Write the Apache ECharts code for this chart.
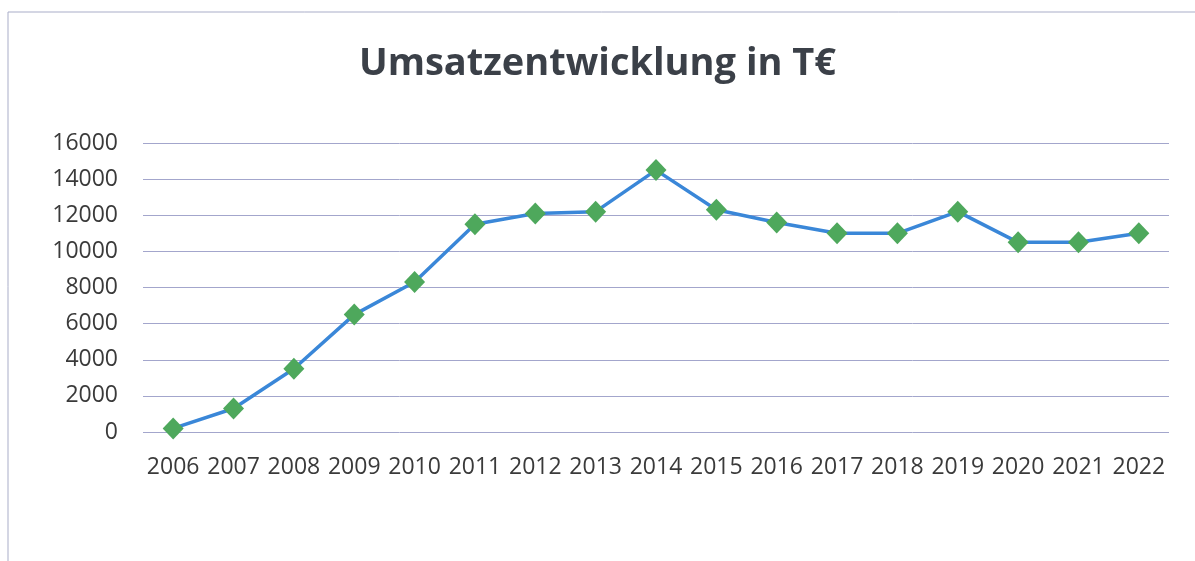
<!DOCTYPE html>
<html>
<head>
<meta charset="utf-8">
<script src="https://cdn.jsdelivr.net/npm/echarts@6/dist/echarts.min.js"></script>
<style>
  html, body { margin: 0; padding: 0; background: #fff; }
  #chart { width: 1195px; height: 561px; }
</style>
</head>
<body>
<div id="chart"></div>
<script>
// Umsatz in T€ pro Jahr
const years = ['2006', '2007', '2008', '2009', '2010', '2011', '2012', '2013', '2014',
  '2015', '2016', '2017', '2018', '2019', '2020', '2021', '2022'];
const revenue = [200, 1300, 3500, 6500, 8300, 11500, 12100, 12200, 14500,
  12300, 11600, 11000, 11000, 12200, 10500, 10500, 11000];
const yTicks = { min: 0, max: 16000, step: 2000 };

const chartObj = echarts.init(document.getElementById('chart'));
let option = {
  animation: false,
  backgroundColor: '#fff',
  title: {
    text: 'Umsatzentwicklung in T€',
    left: 'center',
    top: 40,
    textStyle: {
      fontFamily: 'Open Sans',
      fontWeight: 'bold',
      fontSize: 38,
      color: '#3b4048'
    }
  },
  graphic: [{
    // Rahmen (oben und links sichtbar)
    type: 'polyline',
    shape: { points: [[8, 561], [8, 12], [1195, 12]] },
    style: { stroke: '#a9adc8', lineWidth: 1, fill: null }
  }],
  grid: {
    left: 143,
    right: 26,
    top: 143,
    bottom: 129,
    containLabel: false
  },
  xAxis: {
    type: 'category',
    data: years,
    boundaryGap: true,
    axisLine: { show: false },
    axisTick: { show: false },
    axisLabel: {
      interval: 0,
      margin: 24,
      fontFamily: 'Open Sans',
      fontSize: 23,
      color: '#3a3a3a'
    }
  },
  yAxis: {
    type: 'value',
    min: yTicks.min,
    max: yTicks.max,
    interval: yTicks.step,
    axisLine: { show: false },
    axisTick: { show: false },
    axisLabel: {
      margin: 25,
      fontFamily: 'Open Sans',
      fontSize: 23,
      color: '#3a3a3a',
      formatter: v => String(v)
    },
    splitLine: {
      lineStyle: { color: '#a3a6cc', width: 1 }
    }
  },
  series: [{
    type: 'line',
    data: revenue,
    symbol: 'diamond',
    symbolSize: [21, 22],
    lineStyle: { color: '#3a87d8', width: 3.5 },
    itemStyle: { color: '#4ea85c' }
  }]
};
chartObj.setOption(option, true);
</script>
</body>
</html>
